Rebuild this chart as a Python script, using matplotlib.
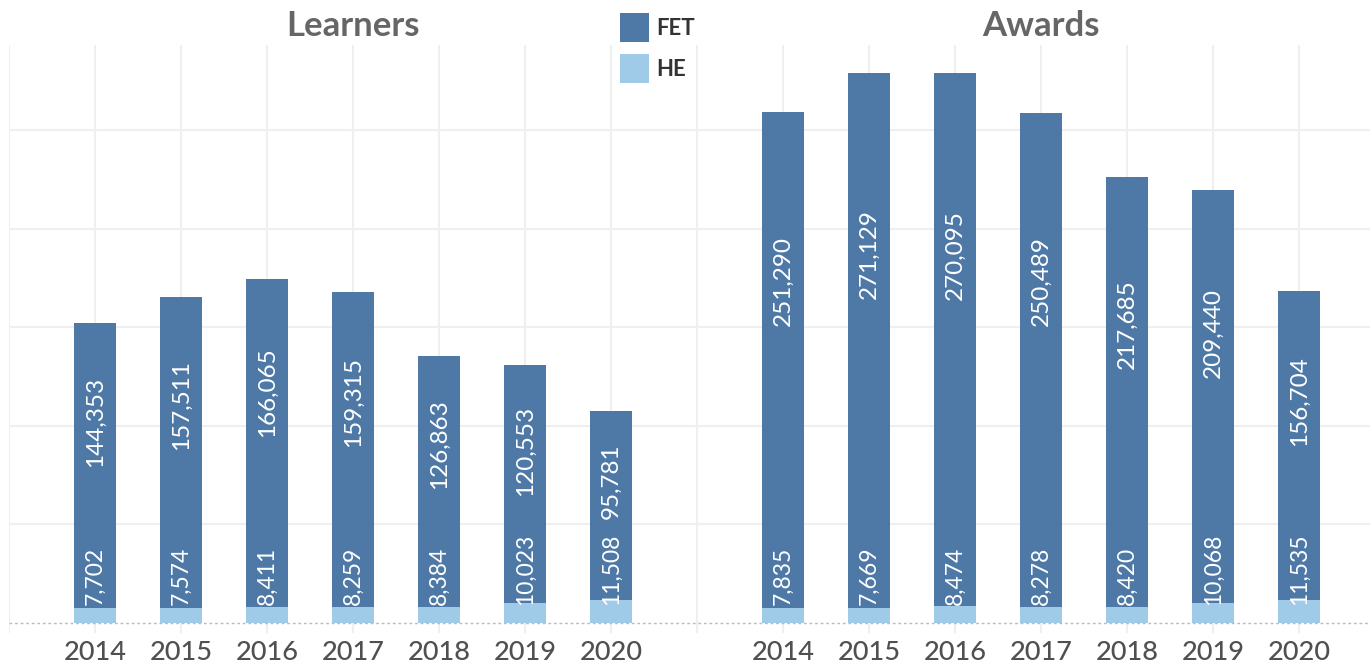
import matplotlib
matplotlib.use("Agg")
import matplotlib.pyplot as plt
from matplotlib.patches import Patch


# ==========================================
# DADOS
# ==========================================

anos = ["2014", "2015", "2016", "2017", "2018", "2019", "2020"]
paineis = ["Learners", "Awards"]

learners_fet = [144353, 157511, 166065, 159315, 126863, 120553, 95781]
learners_he = [7702, 7574, 8411, 8259, 8384, 10023, 11508]

awards_fet = [251290, 271129, 270095, 250489, 217685, 209440, 156704]
awards_he = [7835, 7669, 8474, 8278, 8420, 10068, 11535]

COR_FET = "#4E79A7"
COR_HE = "#A0CBE8"
COR_GRADE = "#EFEFEF"
FONTE = "Lato"


def desenhar():
    fig = plt.figure(figsize=(13.7, 6.67), dpi=100)
    ax = fig.add_axes([9 / 1370, 34 / 667, 1 - 9 / 1370, 588 / 667])

    n = len(anos)
    largura = 0.48
    series = [(learners_fet, learners_he), (awards_fet, awards_he)]
    posicoes_todas = []

    for p, (fet, he) in enumerate(series):
        # cada painel ocupa n posições, com uma posição vazia entre eles
        xs = [p * (n + 1) + i for i in range(n)]
        posicoes_todas += xs
        ax.bar(xs, he, width=largura, color=COR_HE, zorder=3)
        ax.bar(xs, fet, bottom=he, width=largura, color=COR_FET, zorder=3)

        for x, f, h in zip(xs, fet, he):
            total = f + h
            ax.text(x, total * 0.67, f"{f:,}", rotation=90, rotation_mode="anchor",
                    ha="center", va="center", color="white", fontsize=17.5,
                    family=FONTE, zorder=4)
            ax.text(x, 9300, f"{h:,}", rotation=90, rotation_mode="anchor",
                    ha="left", va="center", color="white", fontsize=16.5,
                    family=FONTE, zorder=4)

        centro = (xs[0] + xs[-1]) / 2
        ax.text(centro, 1.032, paineis[p], transform=ax.get_xaxis_transform(),
                ha="center", va="center", fontsize=25, fontweight="bold",
                color="#666666", family=FONTE)

    # eixos e grades
    ax.set_xlim(-1, -1 + 1361 / 86)
    ax.set_ylim(-5000, 293000)
    ax.set_yticks([50000, 100000, 150000, 200000, 250000])
    ax.set_yticklabels([])
    ax.tick_params(axis="y", length=0)
    ax.grid(axis="y", color=COR_GRADE, linewidth=1.5, zorder=0)
    for xv in range(-1, 2 * n + 1):
        ax.axvline(xv, color=COR_GRADE, linewidth=1.5, zorder=0)
    ax.axhline(0, color="#BBBBBB", linestyle=(0, (2, 2)), linewidth=1, zorder=5)

    ax.set_xticks(posicoes_todas)
    ax.set_xticklabels(anos * 2, fontsize=19.5, color="#505050", family=FONTE,
                       fontweight=500)
    ax.tick_params(axis="x", length=0, pad=5)
    for lado in ax.spines.values():
        lado.set_visible(False)

    # legenda
    elementos = [Patch(facecolor=COR_FET, label="FET"),
                 Patch(facecolor=COR_HE, label="HE")]
    fig.legend(handles=elementos, loc="upper left", bbox_to_anchor=(620 / 1370, 1 - 13 / 667),
               frameon=False, borderpad=0, borderaxespad=0,
               prop={"family": FONTE, "size": 16, "weight": "bold"},
               labelcolor="#333333", handlelength=1.3, handleheight=1.63,
               handletextpad=0.35, labelspacing=0.55)

    fig.savefig("out.png", dpi=100)


if __name__ == "__main__":
    desenhar()
